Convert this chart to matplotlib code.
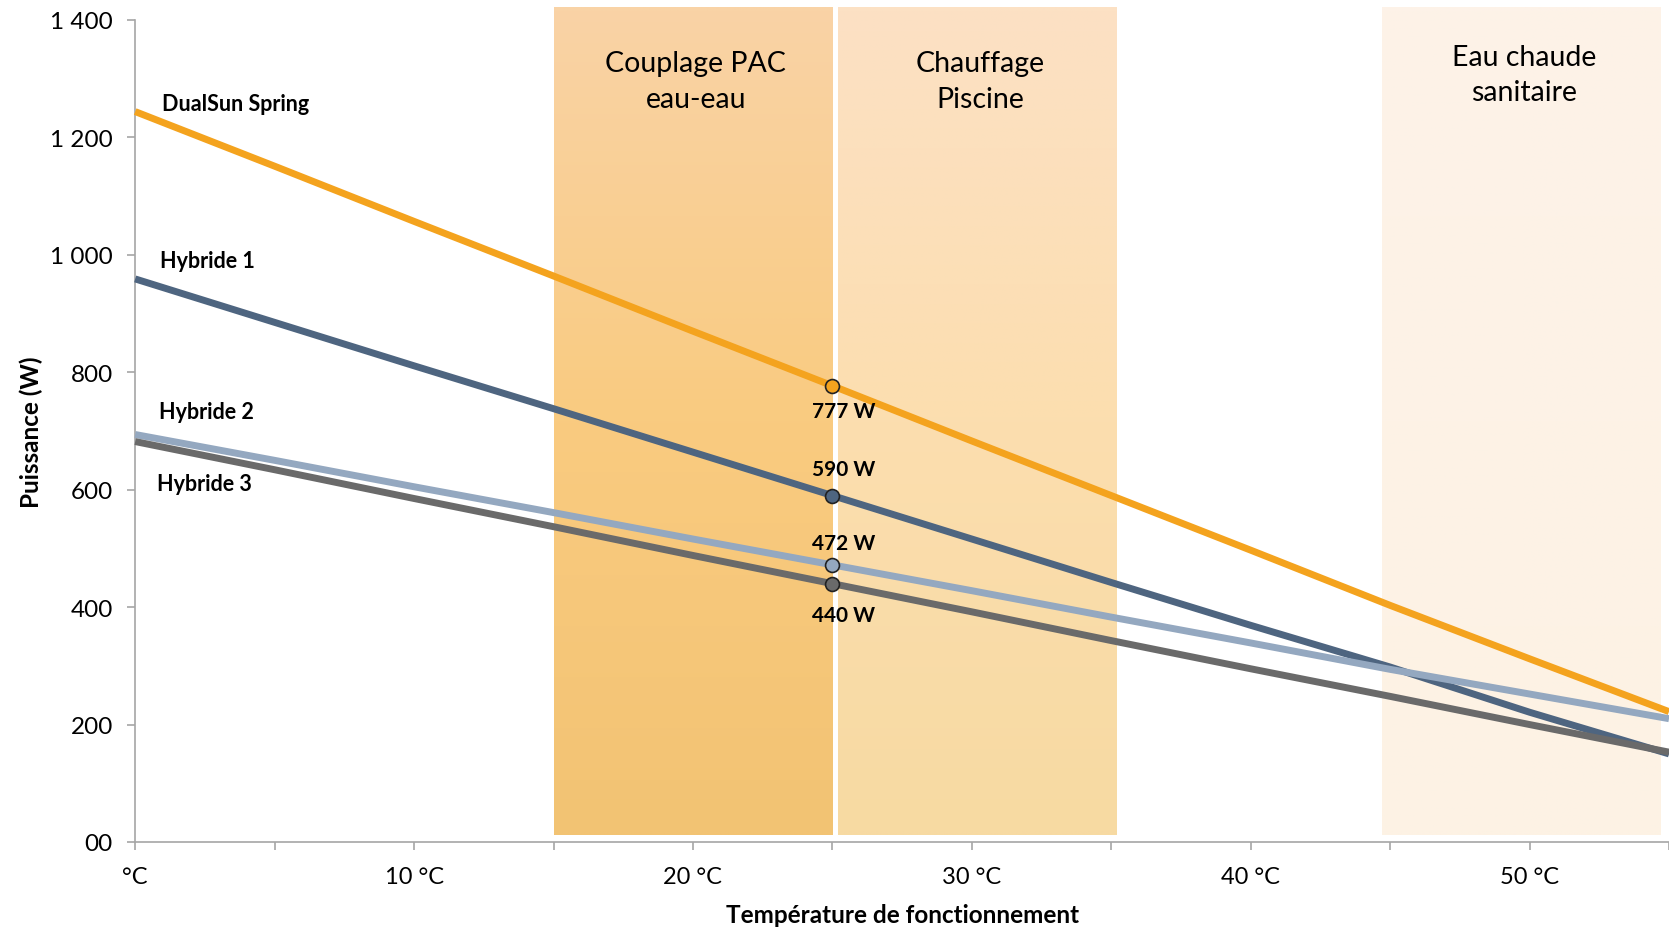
import numpy as np
import matplotlib.pyplot as plt
import matplotlib.transforms as mtransforms

plt.rcParams['font.family'] = ['Lato', 'DejaVu Sans']

# Data (puissance in W vs temperature in degC)
temps = [0, 5, 10, 15, 20, 25, 30, 35, 40, 45, 50, 55]
dualsun = [1244, 1151, 1057, 964, 870, 777, 683, 590, 497, 403, 312, 222]
hybride1 = [959, 885, 811, 738, 664, 590, 516, 442, 369, 298, 221, 150]
hybride2 = [694, 650, 605, 561, 516, 472, 428, 383, 339, 294, 252, 210]
hybride3 = [682, 634, 585, 537, 488, 440, 392, 343, 295, 248, 200, 153]

series_names = ['DualSun Spring', 'Hybride 1', 'Hybride 2', 'Hybride 3']
series_colors = ['#F4A31E', '#4E6580', '#94A8C0', '#6A6A6A']
name_pos = [(0.95, 1257), (0.9, 990), (0.85, 733), (0.78, 611)]

# operating point at 25 degC
point_t = 25
point_labels = ['777 W', '590 W', '472 W', '440 W']
point_label_y = [734, 635, 509, 386]

# zones
zones = [(15.0, 25.0), (25.2, 35.2), (44.7, 54.7)]
zone_names = ['Couplage PAC\neau-eau', 'Chauffage\nPiscine', 'Eau chaude\nsanitaire']
zone_text = [(20.1, 1296), (30.3, 1296), (49.8, 1307)]
zone_top = ['#F9D3A6', '#FCE1C4', '#FDF2E8']
zone_mid = ['#FACB80', '#FCDEAF', '#FDF3E6']
zone_bot = ['#F2C373', '#F7DAA2', '#FDF2E4']

xticks_lab = [0, 10, 20, 30, 40, 50]
xtick_text = ['°C', '10 °C', '20 °C', '30 °C', '40 °C', '50 °C']
yticks = [0, 200, 400, 600, 800, 1000, 1200, 1400]
ytick_text = ['00', '200', '400', '600', '800', '1 000', '1 200', '1 400']

fig = plt.figure(figsize=(16.69, 9.29), dpi=100)
ax = fig.add_axes([0.081, 0.0926, 0.919, 0.8848])

trans = mtransforms.blended_transform_factory(ax.transData, ax.transAxes)
for (x0, x1), c0, c1, c2 in zip(zones, zone_top, zone_mid, zone_bot):
    cols = np.array([plt.matplotlib.colors.to_rgb(c) for c in (c2, c1, c0)])
    n = 100
    s = np.linspace(0, 2, n)
    grad = np.empty((n, 1, 3))
    for k in range(3):
        grad[:, 0, k] = np.interp(s, [0, 1, 2], cols[:, k])
    ax.imshow(grad[::-1], extent=[x0, x1, 0.008, 1.015], transform=trans,
              aspect='auto', clip_on=False, zorder=0, interpolation='bilinear')

for name, vals, col in zip(series_names, [dualsun, hybride1, hybride2, hybride3], series_colors):
    ax.plot(temps, vals, color=col, lw=5, solid_capstyle='butt', zorder=3, clip_on=False)
    i = temps.index(point_t)
    ax.plot(point_t, vals[i], 'o', ms=10, mfc=col, mec='#222222', mew=1.2, zorder=4)

for name, (x, y) in zip(series_names, name_pos):
    ax.text(x, y, name, fontsize=15.5, fontweight='bold', va='center', ha='left')

for lab, y in zip(point_labels, point_label_y):
    ax.text(25.4, y, lab, fontsize=15, fontweight='bold', ha='center', va='center', zorder=5)

for name, (x, y) in zip(zone_names, zone_text):
    ax.text(x, y, name, fontsize=20.5, ha='center', va='center', linespacing=1.45)

ax.set_xlim(0, 55)
ax.set_ylim(0, 1400)
ax.set_xticks(np.arange(0, 56, 5))
ax.set_xticklabels([xtick_text[xticks_lab.index(t)] if t in xticks_lab else '' for t in range(0, 56, 5)])
ax.set_yticks(yticks)
ax.set_yticklabels(ytick_text)

for sp in ['top', 'right']:
    ax.spines[sp].set_visible(False)
for sp in ['left', 'bottom']:
    ax.spines[sp].set_color('#A6A6A6')
    ax.spines[sp].set_linewidth(1.2)
ax.tick_params(axis='both', colors='#A6A6A6', length=6, width=1.2,
               labelcolor='black')
ax.tick_params(axis='x', pad=11.5, labelsize=17)
ax.tick_params(axis='y', pad=10, labelsize=17.5)

ax.set_xlabel('Température de fonctionnement', fontsize=17.5, fontweight='bold')
ax.xaxis.set_label_coords(0.5, -0.074)
ax.set_ylabel('Puissance (W)', fontsize=17.5, fontweight='bold')
ax.yaxis.set_label_coords(-0.060, 0.5)

fig.savefig('out.png', dpi=100)
